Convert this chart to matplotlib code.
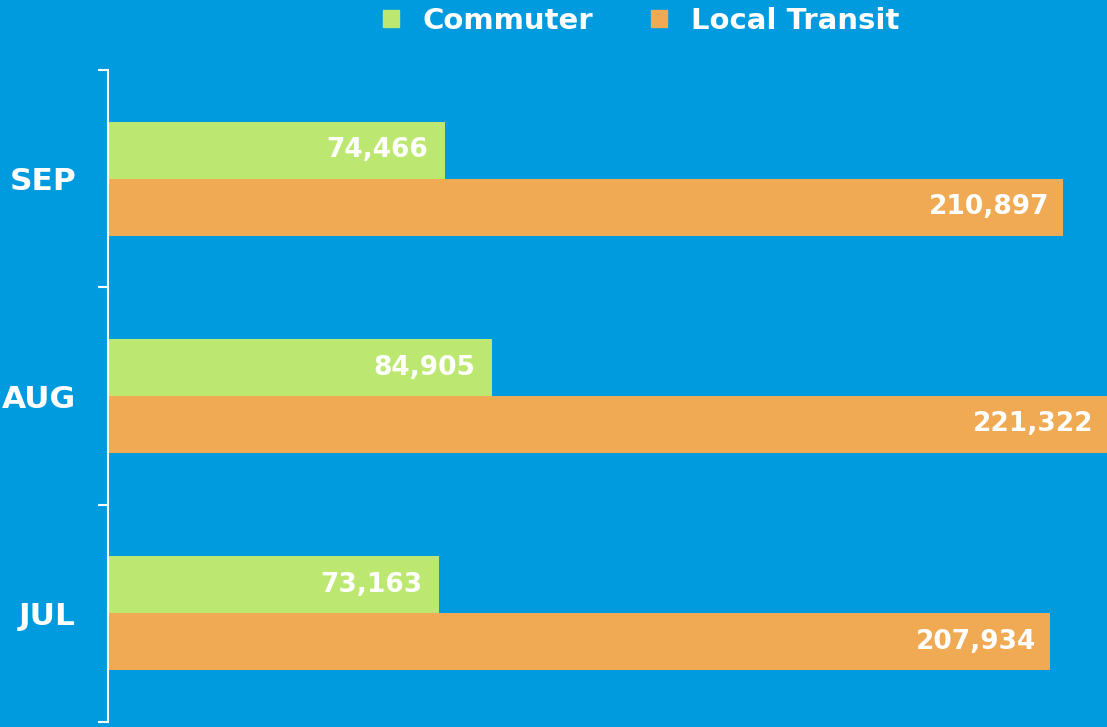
import matplotlib.pyplot as plt
import numpy as np
from matplotlib.patches import Patch

# data
months = ["JUL", "AUG", "SEP"]
commuter = [73163, 84905, 74466]
local_transit = [207934, 221322, 210897]

BG = "#009BDF"
GREEN = "#BCE872"
ORANGE = "#F0AA54"

fig = plt.figure(figsize=(11.07, 7.27), dpi=100, facecolor=BG)
ax = fig.add_axes([108 / 1107, 5 / 727, 1 - 108 / 1107, 652 / 727])
ax.set_facecolor(BG)

y = np.arange(len(months))
h = 0.262
ax.barh(y + h / 2, commuter, height=h, color=GREEN)
ax.barh(y - h / 2, local_transit, height=h, color=ORANGE)

for yi, v in zip(y, commuter):
    ax.text(v - 3700, yi + h / 2, f"{v:,}", ha="right", va="center",
            color="white", fontsize=19, fontweight="bold")
for yi, v in zip(y, local_transit):
    ax.text(min(v, 220600) - 3000, yi - h / 2, f"{v:,}", ha="right", va="center",
            color="white", fontsize=19, fontweight="bold")

ax.set_xlim(0, 220600)
ax.set_ylim(-0.5, len(months) - 0.5)
ax.set_xticks([])

# category ticks sit between groups; labels at group centers
ax.set_yticks(np.arange(-0.5, len(months), 1.0))
ax.set_yticklabels([])
ax.set_yticks(y, minor=True)
ax.set_yticklabels(months, minor=True, fontsize=22.5, fontweight="bold", color="white")
ax.tick_params(axis="y", which="major", length=7, width=1.5, color="white", direction="out")
ax.tick_params(axis="y", which="minor", length=0, pad=23)

for s in ["top", "right", "bottom"]:
    ax.spines[s].set_visible(False)
ax.spines["left"].set_color("white")
ax.spines["left"].set_linewidth(1.5)

handles = [Patch(color=GREEN, label="Commuter"), Patch(color=ORANGE, label="Local Transit")]
leg = fig.legend(handles=handles, loc="upper center", bbox_to_anchor=(0.579, 1.027), ncol=2,
                 frameon=False, handlelength=0.55, handleheight=0.55, handletextpad=0.8,
                 columnspacing=2.0, prop={"size": 21, "weight": "bold"})
for t in leg.get_texts():
    t.set_color("white")

fig.savefig("out.png", dpi=100, facecolor=BG)
